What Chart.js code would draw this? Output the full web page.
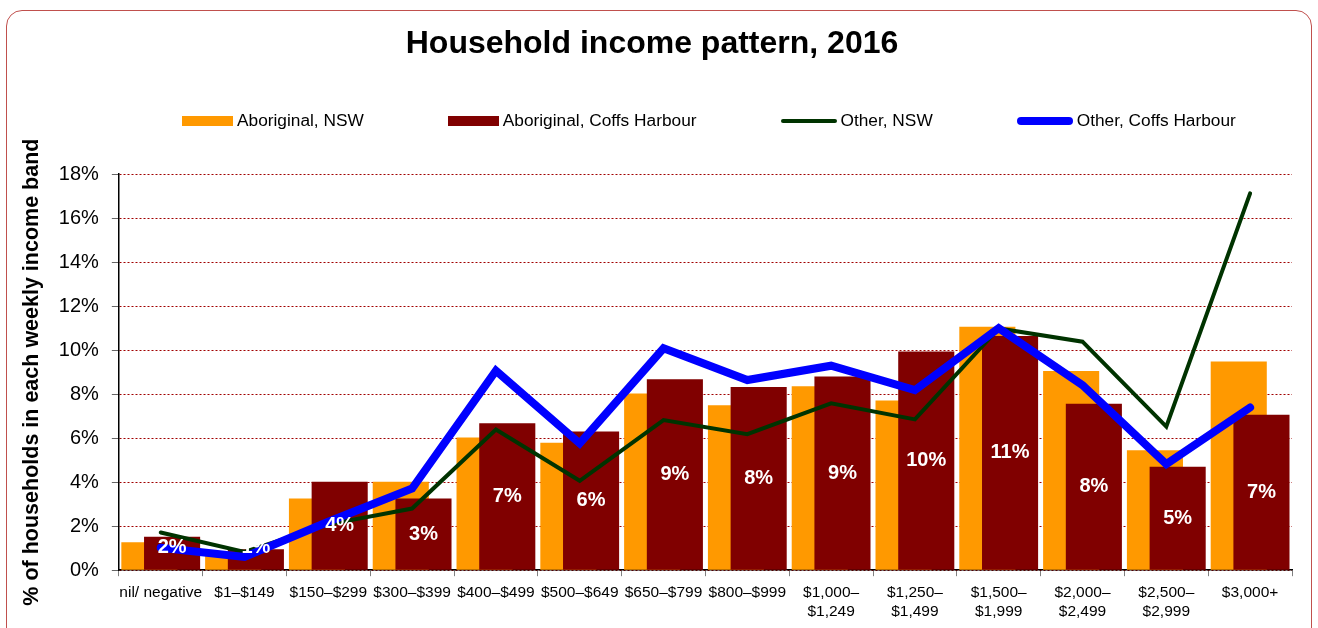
<!DOCTYPE html>
<html>
<head>
<meta charset="utf-8">
<title>Household income pattern, 2016</title>
<script src="https://cdn.jsdelivr.net/npm/chart.js@4.4.1/dist/chart.umd.min.js"></script>
<style>
  html, body { margin: 0; padding: 0; background: #fff; overflow: hidden; }
  #wrap { position: relative; width: 1318px; height: 628px; }
  #frame {
    position: absolute; left: 6px; top: 10px; width: 1306px; height: 700px;
    border: 1.5px solid #c0504d; border-radius: 16px; box-sizing: border-box; pointer-events: none;
  }
  #legend {
    position: absolute; left: 182px; top: 110px; display: flex; align-items: center; gap: 84px;
    font: 17.3px 'Liberation Sans', Arial, sans-serif; color: #000;
  }
  .legend-item { display: flex; align-items: center; gap: 4px; white-space: nowrap; }
  .swatch { display: inline-block; }
</style>
</head>
<body>
<div id="wrap">
  <canvas id="income-chart"></canvas>
  <div id="legend"></div>
  <div id="frame"></div>
</div>
<script>
// ---- Data ----
const incomeBands = [
  'nil/ negative', '$1–$149', '$150–$299', '$300–$399', '$400–$499', '$500–$649',
  '$650–$799', '$800–$999', ['$1,000–', '$1,249'], ['$1,250–', '$1,499'],
  ['$1,500–', '$1,999'], ['$2,000–', '$2,499'], ['$2,500–', '$2,999'], '$3,000+'
];
const aboriginalNsw   = [1.27, 0.70, 3.26, 4.02, 6.03, 5.79, 8.03, 7.49, 8.36, 7.71, 11.06, 9.05, 5.45, 9.48];
const aboriginalCoffs = [1.52, 0.95, 4.02, 3.26, 6.67, 6.30, 8.68, 8.32, 8.80, 9.94, 10.64, 7.56, 4.70, 7.06];
const otherNsw        = [1.71, 0.83, 2.08, 2.80, 6.39, 4.06, 6.82, 6.18, 7.58, 6.85, 10.98, 10.38, 6.52, 17.12];
const otherCoffs      = [1.02, 0.60, 2.20, 3.71, 9.06, 5.76, 10.08, 8.64, 9.29, 8.18, 11.00, 8.41, 4.82, 7.39];
const yTickValues     = [0, 2, 4, 6, 8, 10, 12, 14, 16, 18];

const FONT = "'Liberation Sans', Arial, sans-serif";

// ---- Draw bars first (orange under maroon), then the lines ----
const layerOrder = {
  id: 'layerOrder',
  beforeDatasetDraw: () => false,
  afterDatasetsDraw(chart) {
    chart.data.datasets.forEach((ds, i) => {
      if (chart.isDatasetVisible(i)) chart.getDatasetMeta(i).controller.draw();
    });
  }
};

// ---- White % labels on the Coffs Harbour bars ----
const barLabels = {
  id: 'barLabels',
  afterDatasetsDraw(chart) {
    const meta = chart.getDatasetMeta(1);
    const ctx = chart.ctx;
    ctx.save();
    ctx.font = `bold 20px ${FONT}`;
    ctx.fillStyle = '#fff';
    ctx.textAlign = 'center';
    ctx.textBaseline = 'middle';
    meta.data.forEach((bar, i) => {
      const y = Math.min((bar.y + bar.base) / 2, bar.base - 22);
      ctx.fillText(Math.round(aboriginalCoffs[i]) + '%', bar.x, y);
    });
    ctx.restore();
  }
};

const chart = new Chart(document.getElementById('income-chart'), {
  type: 'bar',
  data: {
    labels: incomeBands,
    datasets: [
      {
        label: 'Aboriginal, NSW',
        data: aboriginalNsw,
        backgroundColor: '#ff9900',
        categoryPercentage: 0.542,
        barPercentage: 2.47
      },
      {
        label: 'Aboriginal, Coffs Harbour',
        data: aboriginalCoffs,
        backgroundColor: '#800000',
        categoryPercentage: 0.542,
        barPercentage: 2.47
      },
      {
        type: 'line',
        label: 'Other, NSW',
        data: otherNsw,
        borderColor: '#003300',
        backgroundColor: '#003300',
        borderWidth: 4,
        pointRadius: 0,
        tension: 0,
        borderJoinStyle: 'miter',
        borderCapStyle: 'round'
      },
      {
        type: 'line',
        label: 'Other, Coffs Harbour',
        data: otherCoffs,
        borderColor: '#0000ff',
        backgroundColor: '#0000ff',
        borderWidth: 8,
        pointRadius: 0,
        tension: 0,
        borderJoinStyle: 'miter',
        borderCapStyle: 'round'
      }
    ]
  },
  options: {
    responsive: true,
    maintainAspectRatio: false,
    animation: false,
    layout: { padding: { left: 12, right: 26, top: 0, bottom: 0 } },
    plugins: {
      legend: { display: false },
      tooltip: { enabled: false },
      title: {
        display: true,
        text: 'Household income pattern, 2016',
        color: '#000',
        font: { family: FONT, size: 32, weight: 'bold', lineHeight: 1.2 },
        padding: { top: 25, bottom: 110.6 }
      }
    },
    scales: {
      x: {
        grid: { drawOnChartArea: false, tickLength: 6, tickColor: '#808080', offset: true },
        border: { color: '#000', width: 1.5 },
        ticks: {
          color: '#000',
          font: { family: FONT, size: 15.5, lineHeight: 1.22 },
          padding: 7,
          maxRotation: 0,
          autoSkip: false
        }
      },
      y: {
        min: 0,
        max: 18,
        afterBuildTicks: axis => { axis.ticks = yTickValues.map(v => ({ value: v })); },
        grid: { color: '#a00000', lineWidth: 1, tickLength: 7, tickColor: '#666', tickBorderDash: [] },
        border: { color: '#000', width: 1.5, dash: [2, 2] },
        ticks: {
          color: '#000',
          font: { family: FONT, size: 20 },
          padding: 13,
          callback: v => v + '%'
        },
        title: {
          display: true,
          text: '% of households in each weekly income band',
          color: '#000',
          font: { family: FONT, size: 21.5, weight: 'bold', lineHeight: 1.2 },
          padding: { top: 7, bottom: 1 }
        }
      }
    }
  },
  plugins: [layerOrder, barLabels]
});

// ---- HTML legend built from the datasets ----
const legendBox = document.getElementById('legend');
legendBox.innerHTML = chart.data.datasets.map(ds => {
  const isLine = ds.type === 'line';
  const w = isLine ? 56 : 51;
  const h = isLine ? ds.borderWidth : 10;
  const color = isLine ? ds.borderColor : ds.backgroundColor;
  const radius = isLine ? h / 2 : 0;
  return `<span class="legend-item"><span class="swatch" style="width:${w}px;height:${h}px;background:${color};border-radius:${radius}px"></span>${ds.label}</span>`;
}).join('');
</script>
</body>
</html>
